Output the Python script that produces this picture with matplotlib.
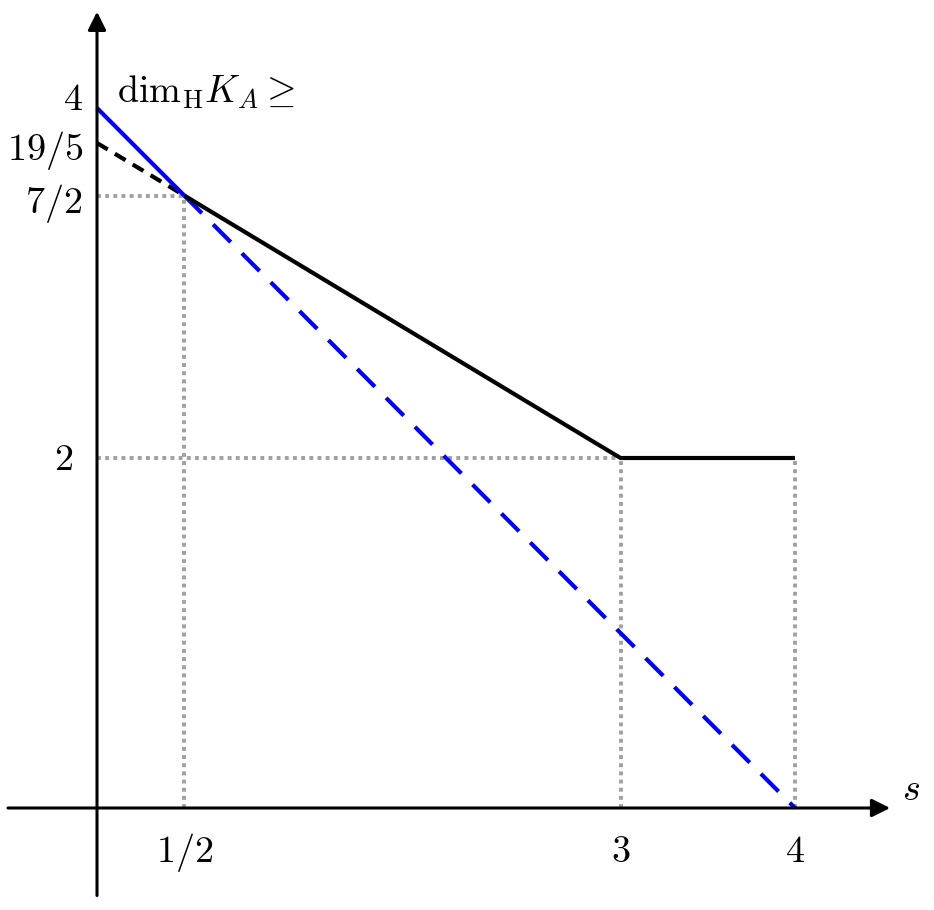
import matplotlib.pyplot as plt
from matplotlib.patches import FancyArrowPatch

plt.rcParams['mathtext.fontset'] = 'cm'

# lower bound curve (black) and the two competing lines
black_x = [0.5, 3, 4]
black_y = [3.5, 2, 2]
black_dash_x = [0, 0.5]
black_dash_y = [19 / 5, 3.5]
blue_x = [0, 0.5]
blue_y = [4, 3.5]
blue_dash_x = [0.5, 4]
blue_dash_y = [3.5, 0]

# dotted guide lines (x pairs, y pairs)
guides = [
    ([0, 0.5], [3.5, 3.5]),
    ([0.5, 0.5], [0, 3.5]),
    ([0, 3], [2, 2]),
    ([3, 3], [0, 2]),
    ([4, 4], [0, 2]),
]

ytick_vals = [4, 19 / 5, 7 / 2, 2]
ytick_labels = ['$4$', '$19/5$', '$7/2$', '$2$']
xtick_vals = [0.5, 3, 4]
xtick_labels = ['$1/2$', '$3$', '$4$']


def main():
    fig = plt.figure(figsize=(9.34, 9.10), dpi=100)
    ax = fig.add_axes([0, 0, 1, 1])
    ax.set_xlim(-97 / 174.5, (934 - 97) / 174.5)
    ax.set_ylim((808 - 910) / 175, 808 / 175)
    ax.axis('off')

    for gx, gy in guides:
        ax.plot(gx, gy, color='#a0a0a0', lw=2.8, linestyle=(0, (1, 1.1)), zorder=1)

    # axes with arrows
    arrow_kw = dict(arrowstyle='-|>,head_length=1.0,head_width=0.5', mutation_scale=11,
                    color='black', lw=2.2, shrinkA=0, shrinkB=0, zorder=3)
    ax.add_patch(FancyArrowPatch((-0.51, 0), (4.545, 0), **arrow_kw))
    ax.add_patch(FancyArrowPatch((0, -0.5), (0, 4.55), **arrow_kw))

    ax.plot(blue_dash_x, blue_dash_y, color='#0000ff', lw=3.0, linestyle=(0, (6, 3.8)), zorder=2)
    ax.plot(black_dash_x, black_dash_y, color='black', lw=3.0, linestyle=(0, (3, 2)), zorder=2)
    ax.plot(blue_x, blue_y, color='#0000ff', lw=3.0, zorder=2, solid_capstyle='butt')
    ax.plot(black_x, black_y, color='black', lw=3.0, zorder=2, solid_capstyle='butt')

    # labels are nudged a little off their values, as in the original figure
    y_nudge = [-0.011, -0.097, -0.1, -0.069]
    x_nudge = [-0.08, -0.08, -0.085, -0.138]
    for v, lab, dy, dx in zip(ytick_vals, ytick_labels, y_nudge, x_nudge):
        ax.text(dx, v + dy, lab, fontsize=27.5, ha='right', va='baseline')
    for v, lab in zip(xtick_vals, xtick_labels):
        ax.text(v, -0.31, lab, fontsize=27.5, ha='center', va='baseline')

    ax.text(4.665, 0.046, '$s$', fontsize=27.5, ha='center', va='baseline')
    ax.text(0.115, 4.029, r'$\mathrm{dim}_{\mathrm{H}} K_A \geq$', fontsize=27.5,
            ha='left', va='baseline')

    fig.savefig('out.png', dpi=100)


if __name__ == '__main__':
    main()
